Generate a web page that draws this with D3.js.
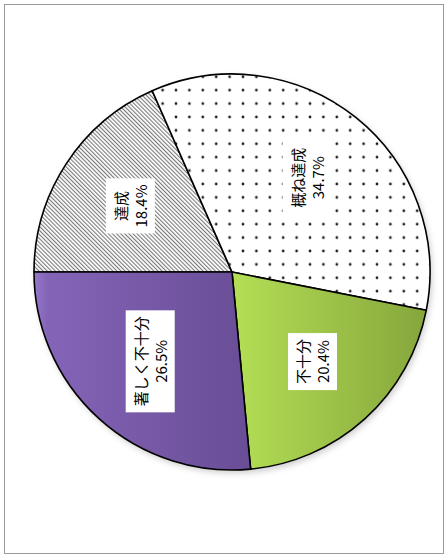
<!DOCTYPE html>
<html>
<head>
<meta charset="utf-8">
<script src="https://cdn.jsdelivr.net/npm/d3@7"></script>
<style>
  body { margin: 0; background: #fff; }
  svg { display: block; }
  .label-text { font-family: "Noto Sans CJK JP", "Noto Sans", sans-serif; font-size: 15px; fill: #000; }
</style>
</head>
<body>
<div id="chart"></div>
<script>
// values (percent)
const categories = ['達成', '概ね達成', '不十分', '著しく不十分'];
const values = [18.4, 34.7, 20.4, 26.5];
const pctLabels = ['18.4%', '34.7%', '20.4%', '26.5%'];

const width = 448, height = 560;
const cx = 232, cy = 272, radius = 198;

const svg = d3.select('#chart').append('svg')
    .attr('width', width)
    .attr('height', height);

// outer frame
svg.append('rect')
    .attr('x', 4.5).attr('y', 4.5)
    .attr('width', 439).attr('height', 549)
    .attr('fill', '#fff')
    .attr('stroke', '#9a9a9a')
    .attr('stroke-width', 1);

const defs = svg.append('defs');

// dotted fill for 概ね達成
const dots = defs.append('pattern')
    .attr('id', 'dots')
    .attr('patternUnits', 'userSpaceOnUse')
    .attr('x', 310 - cx - 6.7).attr('y', 251 - cy - 6.7)
    .attr('width', 13.4).attr('height', 13.4);
dots.append('rect').attr('width', 13.4).attr('height', 13.4).attr('fill', '#fff');
dots.append('circle').attr('cx', 6.7).attr('cy', 6.7).attr('r', 1.35).attr('fill', '#1a1a1a');

// diagonal hatch for 達成
const hatch = defs.append('pattern')
    .attr('id', 'hatch')
    .attr('patternUnits', 'userSpaceOnUse')
    .attr('width', 2.9).attr('height', 2.9)
    .attr('patternTransform', 'rotate(-45)');
hatch.append('rect').attr('width', 2.9).attr('height', 2.9).attr('fill', '#fff');
hatch.append('rect').attr('width', 1.1).attr('height', 2.9).attr('fill', '#7a7a7a');

// gradients for the coloured slices
const gradPurple = defs.append('linearGradient').attr('id', 'grad-purple')
    .attr('x1', 0).attr('x2', 1).attr('y1', 0).attr('y2', 0);
gradPurple.append('stop').attr('offset', '0%').attr('stop-color', '#9479cc');
gradPurple.append('stop').attr('offset', '6%').attr('stop-color', '#8464b7');
gradPurple.append('stop').attr('offset', '100%').attr('stop-color', '#694d96');

const gradGreen = defs.append('linearGradient').attr('id', 'grad-green')
    .attr('x1', 0).attr('x2', 1).attr('y1', 0).attr('y2', 0);
gradGreen.append('stop').attr('offset', '0%').attr('stop-color', '#b4df55');
gradGreen.append('stop').attr('offset', '100%').attr('stop-color', '#86a63c');

const shadow = defs.append('filter').attr('id', 'shadow')
    .attr('x', '-10%').attr('y', '-10%').attr('width', '120%').attr('height', '120%');
shadow.append('feDropShadow')
    .attr('dx', 2).attr('dy', 3).attr('stdDeviation', 3)
    .attr('flood-color', '#000').attr('flood-opacity', 0.2);

const fills = ['url(#hatch)', 'url(#dots)', 'url(#grad-green)', 'url(#grad-purple)'];

const pie = d3.pie()
    .sort(null)
    .startAngle(-Math.PI / 2)
    .endAngle(Math.PI * 1.5)
    .value(d => d);

const arc = d3.arc().innerRadius(0).outerRadius(radius);
const labelArc = d3.arc().innerRadius(radius * 0.61).outerRadius(radius * 0.61);

const arcs = pie(values);

const g = svg.append('g')
    .attr('transform', `translate(${cx},${cy})`);

g.append('circle')
    .attr('r', radius)
    .attr('fill', '#fff')
    .attr('filter', 'url(#shadow)');

g.selectAll('path.slice')
    .data(arcs)
  .join('path')
    .attr('class', 'slice')
    .attr('d', arc)
    .attr('fill', (d, i) => fills[i])
    .attr('stroke', '#000')
    .attr('stroke-width', 1.6)
    .attr('stroke-linejoin', 'round');

// labels: rotated boxes with name + percent
const labels = g.selectAll('g.label')
    .data(arcs)
  .join('g')
    .attr('class', 'label')
    .attr('transform', d => {
      const [x, y] = labelArc.centroid(d);
      return `translate(${x},${y}) rotate(-90)`;
    });

labels.each(function(d, i) {
  const lg = d3.select(this);
  const rect = lg.append('rect').attr('fill', '#fff');
  const t = lg.append('text')
      .attr('class', 'label-text')
      .attr('text-anchor', 'middle');
  t.append('tspan').attr('x', 0).attr('y', -4).text(categories[i]);
  t.append('tspan').attr('x', 0).attr('y', 16).text(pctLabels[i]);
  const bb = t.node().getBBox();
  const padX = 6, padY = 4;
  rect.attr('x', bb.x - padX)
      .attr('y', bb.y - padY)
      .attr('width', bb.width + padX * 2)
      .attr('height', bb.height + padY * 2);
});
</script>
</body>
</html>
